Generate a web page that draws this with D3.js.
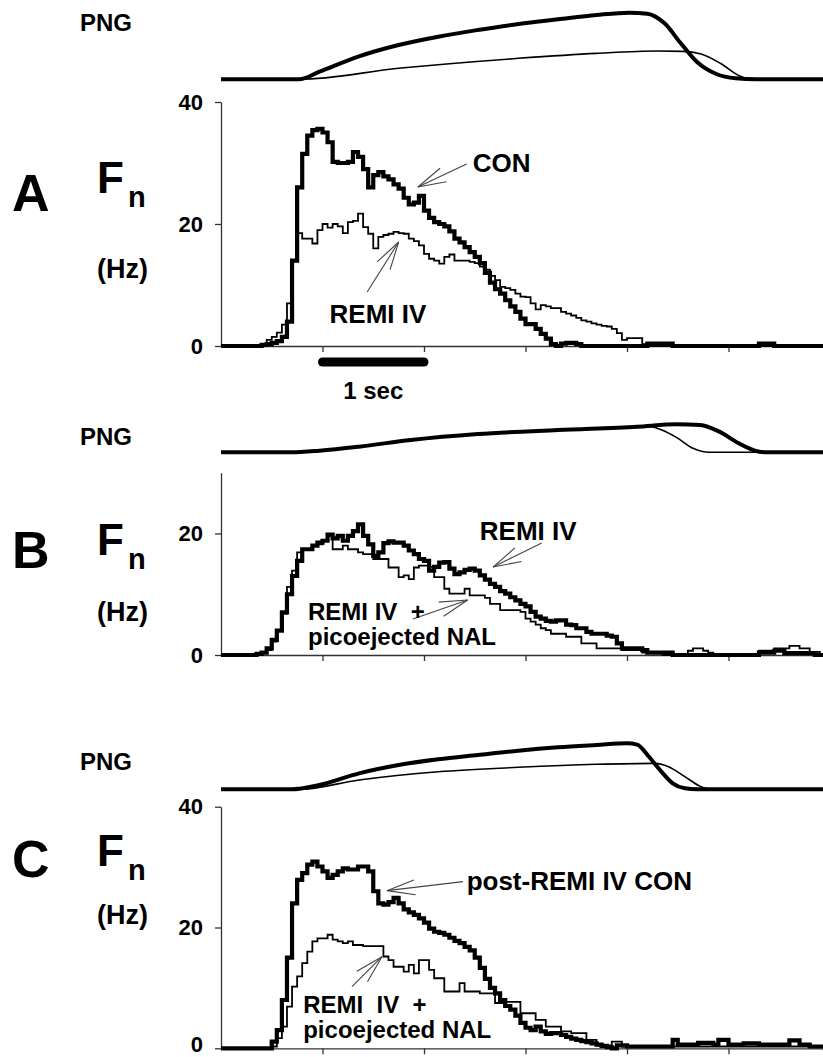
<!DOCTYPE html>
<html><head><meta charset="utf-8">
<script src="https://cdn.jsdelivr.net/npm/d3@7"></script>
<style>
html,body{margin:0;padding:0;background:#fff;}
svg{display:block;}
text{font-family:"Liberation Sans",Arial,Helvetica,sans-serif;font-weight:bold;fill:#000;white-space:pre;}
</style></head><body>
<svg id="chart" width="823" height="1057"></svg>
<script>
// ---------- DATA ----------
// Histogram bins: 50 ms wide, first bin starts at 0.35 s (time from axis origin)
const BIN_START = 0.35, BIN_WIDTH = 0.05;
const TIME_TICKS = [1, 2, 3, 4, 5];          // s (tick every 1 s)
const SCALE_BAR = [1, 2];                    // "1 sec" bar, s

// Panel A: CON (thick) vs REMI IV (thin), Hz
const A_CON = [
0,0.2,0.3,0.5,0.8,1.5,4,14,26,31.5,
34.5,35.4,35.6,35,33.4,30.2,30,30,30.2,31.8,
31,29,26,28,28.5,27.8,27.3,26.5,25.8,24.3,
23.2,23.5,24.6,22.2,21,20.3,20,19.6,18.8,17.6,
17,16.2,15.4,14.6,13.6,12,10.4,9.3,8.6,7.5,
6.5,5.6,4.5,3.6,3.6,2.8,2.0,1.2,0.3,0,
0.4,0.5,0.5,0.3,0,0,0,0,0,0,
0,0,0,0,0,0,0,0.4,0.4,0.4,
0.4,0.4,0,0,0,0,0,0,0,0,
0,0,0,0,0,0,0,0,0,0.4,
0.4,0.4,0,0,0,0,0,0,0,0,
0,0];
const A_REMI = [
0,0.3,1.0,1.5,2.2,3.5,7,14,18.5,17.6,
17.6,16.8,19,20,19.4,20,19.6,18.5,20.3,20.5,
21.7,19.5,18.4,16,17.9,18.2,18.4,18.7,18.5,18.4,
17.6,17.2,16.5,15.1,14.3,14,13.5,14.6,15,14,
14,14,13.8,13.6,13,12.5,11.5,10.8,9.7,9.5,
9.2,8.6,8.1,8,7,6,6.7,6.5,6.2,6.2,
5.6,5.3,5,4.6,4.2,4,3.7,3.5,3.3,3.2,
2.8,2.1,1.0,1.3,1.3,1.3,0.3,0,0,0,
0,0,0,0,0,0,0,0,0,0,
0,0,0,0,0,0,0,0,0,0,
0,0,0,0,0,0,0,0,0,0,
0,0];

// Panel B: REMI IV (thick) vs REMI IV + picoejected NAL (thin), Hz
const B_REMI = [
0.2,0.4,1.1,2.5,4,7,10,13,15.5,17.4,
17.4,18,18.5,18.8,19.8,19.2,19.6,18.8,19.6,20.4,
21.5,19.6,18.2,16.3,16.9,18.4,18.7,18.5,18.5,18,
17.2,16.6,15.8,15.5,13.9,14.5,15.2,15.3,14.2,13.3,
13.6,14,14.2,13.9,13.1,12.4,11.7,11.2,10.5,10.1,
9.5,9,8.4,8,7.1,6.3,6,5.6,5.5,5.7,
5.7,5,4.9,4.4,4.4,3.8,3.5,3.5,3.5,3.2,
3,1.9,1.1,1.1,1.1,1.1,0.8,0.4,0.4,0.4,
0.4,0.4,0,0,0,0,0,0,0,0,
0,0,0,0,0,0,0,0,0,0.4,
0.4,0.4,0.7,0.7,0.3,0.3,0.3,0.3,0.3,0.3,
0,0];
const B_NAL = [
0.2,0.3,0.8,2.2,4,6.8,11.2,13.9,16.9,17.4,
17.4,18,18.2,18.8,19.6,17.4,17.4,18,17.4,17.4,
16.9,16.6,16.6,15.8,15.8,15.8,14.4,14.4,12.8,13.1,
12.5,14.4,14.7,14.7,14.5,12.8,12.8,10.9,10.1,10.1,
10.1,10.9,9.8,9.8,9.8,9.4,8.4,8.4,7.4,7.4,
7.4,7.4,7.1,6,5.5,5,4.4,4.1,3.5,3.5,
3.5,3,3,3,1.9,1.9,1.9,1.1,1.1,1.1,
1.1,1.1,0.8,0.8,0.8,0.8,0.4,0.4,0.4,0.4,
0,0,0,0,0,0.7,1.1,1.1,0.7,0.4,
0,0,0,0,0,0,0,0,0,0.7,
0.7,0.7,1.1,1.1,1.1,1.5,1.5,1.1,1.1,0.5,
0.5,0];

// Panel C: post-REMI IV CON (thick) vs REMI IV + picoejected NAL (thin), Hz
const C_CON = [
0,0,0,1.1,3,8,15,24,27.9,29,
30.4,30.9,30.1,29.3,28.2,28.7,29.3,29.8,29.6,29.6,
30.1,30.1,29.3,26,24,23.8,24.2,24.9,24,23,
22.5,22.1,21.5,20.8,19.8,19.3,19.1,18.8,18.3,17.8,
17.4,16.8,16.2,15,13.3,11.5,10,9.1,8,7,
6.4,5.4,4.2,3.4,3,3.6,2.8,2.4,2.5,2.5,
2.2,1.9,1.6,1.4,1.2,1.0,0.8,0.6,0.4,0.2,
0,0.5,0.5,0.3,0.3,0.3,0.3,0.3,0.3,0.3,
0.3,0.3,1.4,0.6,0.6,0.6,0.6,0.9,0.9,0.9,
0.6,1.4,1.4,0.6,0.6,0.6,0.8,0.8,0.8,0.6,
0.6,0.6,0.6,0.6,0.6,1.3,1.3,0.6,0.6,0.3,
0.3,0.3];
const C_NAL = [
0,0,0,0.3,1.7,3.6,6.9,10.2,11.9,14.1,
16,17.7,18.2,18.2,18.8,18,17.7,17.4,17.7,17.1,
17.1,16.9,16.9,16.9,16.9,15.2,14.6,13.5,13.5,12.7,
13.8,12.4,14.6,14.6,13,11.6,11.6,9.4,9.4,9.4,
10.8,9.4,9.4,9.4,9.1,9.1,9.1,7.5,7.5,7.7,
7.7,7.7,5.8,5.8,5.8,4.7,4.7,3.6,3.6,3.6,
2.8,2.8,2.5,2.5,2.5,1.4,1.4,0.5,0.5,0.5,
1.1,1.1,0.3,0.3,0.3,0.3,0.3,0.3,0.3,0.3,
0.3,0.3,0.3,0.3,0.3,0.3,0.3,0.3,0.3,0.3,
0.3,0.3,0.3,0.3,0.3,0.3,0.3,0.3,0.3,0.3,
0.3,0.3,0.3,0.3,0.3,0.3,0.3,0.3,0.3,0.3,
0.3,0.3];

// PNG (phrenic neurogram, arbitrary units) : [time s, amplitude]
const PNG_A_THICK = [[0,0],[0.77,0],[0.97,11.4],[1.36,34.5],[1.75,51.5],[2.14,64],[2.53,74],[2.93,83],[3.32,90],[3.70,96.5],[4.02,100],[4.20,98.5],[4.37,84],[4.53,54],[4.69,26],[4.88,8],[5.07,1.5],[5.27,0],[6,0]];
const PNG_A_THIN  = [[0,0],[0.77,0],[1.75,16.5],[2.93,31.5],[3.70,39],[4.30,42.5],[4.55,42],[4.73,38],[4.92,24],[5.11,5],[5.23,0],[6,0]];
const PNG_B_THICK = [[0,0],[0.69,0],[0.97,2.4],[1.36,8.4],[1.87,18.5],[2.53,27.5],[3.32,33.5],[4.10,38.5],[4.49,42],[4.72,41],[4.91,31],[5.10,13.5],[5.26,2.4],[5.38,0],[6,0]];
const PNG_B_THIN  = [[0,0],[0.69,0],[0.97,2.4],[1.36,8.4],[1.87,18.5],[2.53,27.5],[3.32,33.5],[4.10,38.5],[4.22,38.8],[4.35,33],[4.49,22],[4.65,6],[4.81,0],[6,0]];
const PNG_C_THICK = [[0,0],[0.69,0],[0.97,6.5],[1.36,24],[1.75,36.5],[2.14,45],[2.53,51.5],[2.93,58],[3.32,63],[3.70,66.5],[4.00,69],[4.10,67],[4.21,50],[4.33,28],[4.45,9],[4.57,1.5],[4.69,0],[6,0]];
const PNG_C_THIN  = [[0,0],[0.77,0],[1.36,14],[2.14,26.4],[2.93,33],[3.70,37.5],[4.26,39],[4.41,34],[4.57,19],[4.73,4],[4.83,0],[6,0]];

// Annotations: text lines, text anchor (s, Hz), arrow tip & tail (s, Hz)
const ANNOT_A = [
  {lines:["CON"], at:[2.48,28.5], tip:[1.94,26.07], tail:[2.42,29.84]},
  {lines:["REMI IV"], at:[1.07,3.77], tip:[1.75,17.05], tail:[1.44,8.85]}
];
const ANNOT_B = [
  {lines:["REMI IV"], at:[2.55,18.9], tip:[2.68,14.47], tail:[3.16,18.42]},
  {lines:["REMI IV  +","picoejected NAL"], at:[0.857,5.76], tip:[2.43,9.05], tail:[1.89,5.92]}
];
const ANNOT_C = [
  {lines:["post-REMI IV CON"], at:[2.42,26.2], tip:[1.635,26.1], tail:[2.384,27.6]},
  {lines:["REMI  IV  +","picoejected NAL"], at:[0.81,5.84], tip:[1.586,15.17], tail:[1.29,10.2]}
];

// ---------- LAYOUT ----------
const X0 = 221, PX_PER_S = 101.5;
const x = d3.scaleLinear().domain([0, 6]).range([X0, X0 + 6 * PX_PER_S]);
const PNG_PX = 66.6; // px per 100 a.u.

const panels = [
  {letter:"A", pngBase:79.3, pngLabelY:31, yRange:[346,102], yMax:40, yTicks:[0,20,40],
   thick:A_CON, thin:A_REMI, pThick:PNG_A_THICK, pThin:PNG_A_THIN, ann:ANNOT_A,
   letterY:211, fY:193, hzY:278, scaleBar:true},
  {letter:"B", pngBase:452.3, pngLabelY:445, yRange:[655,472.7], yMax:30, yTicks:[0,20],
   thick:B_REMI, thin:B_NAL, pThick:PNG_B_THICK, pThin:PNG_B_THIN, ann:ANNOT_B,
   letterY:568, fY:555, hzY:621},
  {letter:"C", pngBase:789.3, pngLabelY:770, yRange:[1048.3,806.7], yMax:40, yTicks:[0,20,40],
   thick:C_CON, thin:C_NAL, pThick:PNG_C_THICK, pThin:PNG_C_THIN, ann:ANNOT_C,
   letterY:877, fY:866, hzY:924}
];

const svg = d3.select("#chart");
svg.append("rect").attr("width",823).attr("height",1057).attr("fill","#fff");

function histPoints(vals){
  const pts = [[0,0]];
  vals.forEach((v,i)=>pts.push([BIN_START + i*BIN_WIDTH, v]));
  pts.push([BIN_START + vals.length*BIN_WIDTH, 0]);
  pts.push([6,0]);
  return pts;
}

panels.forEach(p => {
  const g = svg.append("g");
  // PNG traces
  const yp = d3.scaleLinear().domain([0,100]).range([p.pngBase, p.pngBase - PNG_PX]);
  const pline = d3.line().x(d=>x(d[0])).y(d=>yp(d[1])).curve(d3.curveMonotoneX);
  g.append("path").attr("d", pline(p.pThin)).attr("fill","none").attr("stroke","#000").attr("stroke-width",1.6);
  g.append("path").attr("d", pline(p.pThick)).attr("fill","none").attr("stroke","#000").attr("stroke-width",4);
  g.append("text").attr("x",80).attr("y",p.pngLabelY).attr("font-size",24).text("PNG");

  // histogram scales & axes
  const y = d3.scaleLinear().domain([0,p.yMax]).range(p.yRange);
  const yAxis = d3.axisLeft(y).tickValues(p.yTicks).tickSize(6).tickSizeOuter(0).tickPadding(12).tickFormat(d3.format("d"));
  const ya = g.append("g").attr("transform",`translate(${X0},0)`).call(yAxis);
  ya.selectAll("path,line").attr("stroke","#333").attr("stroke-width",1.3);
  ya.selectAll("text").attr("font-size",22).attr("font-family",'"Liberation Sans",Arial,sans-serif').attr("font-weight","bold").attr("fill","#000")
    .attr("dy", d => (d === 0 && p.yRange[0] > 1000) ? "0.15em" : "0.32em");

  const xAxis = d3.axisBottom(x).tickValues(TIME_TICKS).tickSize(6).tickSizeOuter(0).tickFormat("");
  const xa = g.append("g").attr("transform",`translate(0,${p.yRange[0]})`).call(xAxis);
  xa.selectAll("path,line").attr("stroke","#333").attr("stroke-width",1.3);

  // histograms
  const hline = d3.line().x(d=>x(d[0])).y(d=>y(d[1])).curve(d3.curveStepAfter);
  g.append("path").attr("d", hline(histPoints(p.thin))).attr("fill","none").attr("stroke","#000").attr("stroke-width",1.8);
  g.append("path").attr("d", hline(histPoints(p.thick))).attr("fill","none").attr("stroke","#000").attr("stroke-width",4.2).attr("stroke-linejoin","miter");

  // annotations
  p.ann.forEach(a => {
    const tip = [x(a.tip[0]), y(a.tip[1])], tail = [x(a.tail[0]), y(a.tail[1])];
    const ang = Math.atan2(tail[1]-tip[1], tail[0]-tip[0]);
    const L = 29, da = 15*Math.PI/180;
    const segs = [[tip, tail],
      [tip, [tip[0]+L*Math.cos(ang+da), tip[1]+L*Math.sin(ang+da)]],
      [tip, [tip[0]+L*Math.cos(ang-da), tip[1]+L*Math.sin(ang-da)]]];
    segs.forEach(s => g.append("line").attr("x1",s[0][0]).attr("y1",s[0][1]).attr("x2",s[1][0]).attr("y2",s[1][1])
      .attr("stroke","#444").attr("stroke-width",1.1));
    a.lines.forEach((ln,i) => g.append("text").attr("x",x(a.at[0])).attr("y",y(a.at[1]) + i*25)
      .attr("font-size", a.lines.length>1 ? 24 : 26).text(ln));
  });

  // panel labels
  g.append("text").attr("x",12).attr("y",p.letterY).attr("font-size",52).text(p.letter);
  g.append("text").attr("x",97).attr("y",p.fY).attr("font-size",44).text("F");
  g.append("text").attr("x",128).attr("y",p.fY+14).attr("font-size",29).text("n");
  g.append("text").attr("x",97).attr("y",p.hzY).attr("font-size",27).text("(Hz)");

  if (p.scaleBar) {
    const yb = p.yRange[0] + 16;
    g.append("line").attr("x1",x(SCALE_BAR[0])).attr("x2",x(SCALE_BAR[1])).attr("y1",yb).attr("y2",yb)
      .attr("stroke","#000").attr("stroke-width",9).attr("stroke-linecap","round");
    g.append("text").attr("x",(x(SCALE_BAR[0])+x(SCALE_BAR[1]))/2).attr("y",yb+37).attr("text-anchor","middle")
      .attr("font-size",24).text("1 sec");
  }
});
</script>
</body></html>
